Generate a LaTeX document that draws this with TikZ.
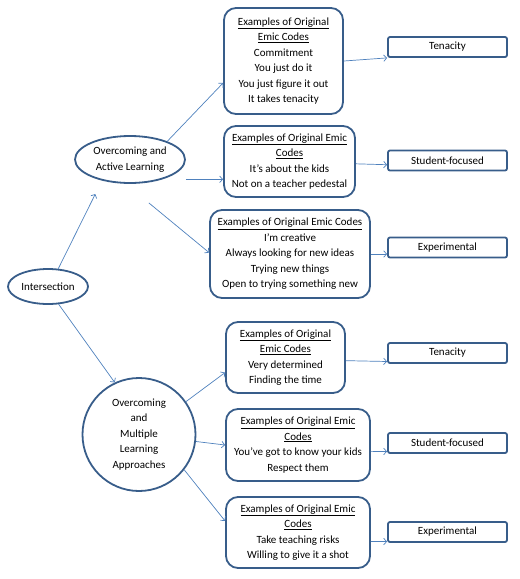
\documentclass[tikz,border=0pt]{standalone}
\usepackage{fontspec}
\setmainfont{Carlito}
\usepackage{tikz}
\usetikzlibrary{arrows.meta,shapes.geometric}
\definecolor{boxblue}{RGB}{56,93,138}
\definecolor{lineblue}{RGB}{79,129,189}

\begin{document}
\begin{tikzpicture}[x=1pt,y=-1pt,
    font={\fontsize{11}{15.5}\selectfont}]
	\useasboundingbox (0,0) rectangle (520,579);
	% start and the two branches
	\begin{scope}[every node/.style={ellipse,draw=boxblue,line width=1.8pt,align=center,inner sep=0pt}]
    	\node[minimum width=80pt,minimum height=35pt] (inter) at (48,286.5) {Intersection};
    	\node[minimum width=110pt,minimum height=47pt] (active) at (130,159.5) {Overcoming and\\Active Learning};
    	\node[circle,minimum size=113pt] (multi) at (139,434.5) {Overcoming\\and\\Multiple\\Learning\\Approaches};
	\end{scope}
	% emic code boxes
	\begin{scope}[every node/.style={rectangle,rounded corners=12pt,draw=boxblue,line width=1.8pt,align=center,inner sep=0pt}]
    	\node[minimum width=119pt,minimum height=106pt] (codeA) at (283.5,61) {\underline{Examples of Original}\\\underline{Emic Codes}\\Commitment\\You just do it\\You just figure it out\\It takes tenacity};
    	\node[minimum width=131pt,minimum height=71pt] (codeB) at (289.5,161.5) {\underline{Examples of Original Emic}\\\underline{Codes}\\It’s about the kids\\Not on a teacher pedestal};
    	\node[minimum width=160pt,minimum height=88pt] (codeC) at (290,254) {\underline{Examples of Original Emic Codes}\\I’m creative\\Always looking for new ideas\\Trying new things\\Open to trying something new};
    	\node[minimum width=119pt,minimum height=71pt] (codeD) at (285.5,357.5) {\underline{Examples of Original}\\\underline{Emic Codes}\\Very determined\\Finding the time};
    	\node[minimum width=144pt,minimum height=72pt] (codeE) at (298,445) {\underline{Examples of Original Emic}\\\underline{Codes}\\You’ve got to know your kids\\Respect them};
    	\node[minimum width=144pt,minimum height=71pt] (codeF) at (298,532.5) {\underline{Examples of Original Emic}\\\underline{Codes}\\Take teaching risks\\Willing to give it a shot};
	\end{scope}
	% themes
	\begin{scope}[every node/.style={rectangle,rounded corners=2pt,draw=boxblue,line width=1.8pt,minimum width=119pt,minimum height=20pt,inner sep=0pt}]
    	\node (tenA) at (447.5,47) {Tenacity};
    	\node (stuA) at (447.5,160.5) {Student-focused};
    	\node (expA) at (447.5,247.5) {Experimental};
    	\node (tenB) at (447.5,353) {Tenacity};
    	\node (stuB) at (447.5,443) {Student-focused};
    	\node (expB) at (447.5,532) {Experimental};
	\end{scope}
	\begin{scope}[>={Straight Barb[length=3pt,width=6.5pt]},
              every edge/.style={draw=lineblue,line width=0.7pt}]
    	\path [->] (inter.60) edge[shorten >=15pt] (active.217);
    	\path [->] (inter.-59) edge (multi.115);
    	\path [->] (active.26) edge (codeA.200);
    	\path [->] (codeB.195 -| active.east) edge (codeB.195);
    	\path [->] (active.260) edge[shorten <=30pt] (codeC.179);
    	\path [->] (codeA.east) edge (tenA.south west);
    	\path [->] (codeB.358) edge (stuA.184);
    	\path [->] (codeC.east) edge (codeC.east -| expA.west);
    	\path [->] (multi.35) edge (codeD.194);
    	\path [->] (multi.353) edge (codeE.west);
    	\path [->] (multi.-38) edge (codeF.171);
    	\path [->] (codeD.357) edge (tenB.188);
    	\path [->] (codeE.355) edge (stuB.188);
    	\path [->] (codeF.353) edge (expB.189);
	\end{scope}
\end{tikzpicture}
\end{document}
